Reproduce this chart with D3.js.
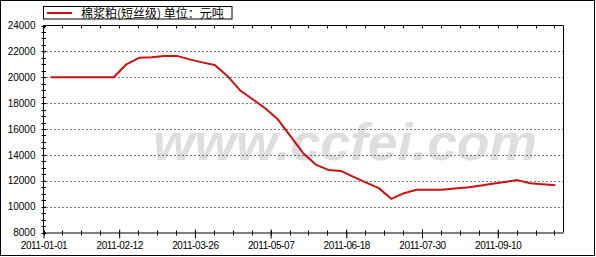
<!DOCTYPE html>
<html><head><meta charset="utf-8">
<script src="https://cdn.jsdelivr.net/npm/d3@7"></script>
<style>body{margin:0;background:#fff}svg{display:block}</style>
</head><body>
<svg id="c" width="596" height="257"></svg>
<script>
const seriesName = "棉浆粕(短丝级) 单位：元吨";
const startDate = "2011-01-05";
const values = [20000,20000,20000,20000,20000,20000,21000,21500,21550,21650,
  21650,21380,21150,20950,20100,19000,18300,17600,16750,15450,
  14150,13250,12840,12760,12300,11850,11430,10600,11040,11300,
  11300,11300,11400,11470,11620,11760,11900,12050,11800,11730,11650];
const xTickLabels = ["2011-01-01","2011-02-12","2011-03-26","2011-05-07","2011-06-18","2011-07-30","2011-09-10"];
const yTicks = [8000,10000,12000,14000,16000,18000,20000,22000,24000];
const watermark = "www.ccfei.com";

const svg = d3.select("#c");
const parse = d3.utcParse("%Y-%m-%d");
const DAY = 86400000;
const t0 = parse(startDate);
const data = values.map((v,i)=>({d:new Date(+t0 + i*7*DAY), v}));
const xStart = parse("2011-01-01");
const L=43.5, R=563.5, T=25.5, B=232.5;
const x = d3.scaleUtc().domain([xStart, new Date(+xStart + 288.5*DAY)]).range([L,R]);
const y = d3.scaleLinear().domain([8000,24000]).range([B,T]);
const py = v => Math.round(y(v)) + 0.5;

// outer border
svg.append("rect").attr("x",0.5).attr("y",0.5).attr("width",594).attr("height",255)
  .attr("fill","#fff").attr("stroke","#000");

// watermark
svg.append("text").attr("x",345).attr("y",160).attr("text-anchor","middle")
  .attr("font-family","Liberation Sans, Arial, sans-serif").attr("font-weight","bold")
  .attr("font-style","italic").attr("font-size",52).attr("fill","#dedede")
  .attr("textLength",384).attr("lengthAdjust","spacingAndGlyphs").text(watermark);

// grid
svg.append("g").selectAll("line").data(yTicks.filter(t=>t>8000&&t<24000)).join("line")
  .attr("x1",L+3).attr("x2",R).attr("y1",py).attr("y2",py)
  .attr("stroke","#000").attr("stroke-dasharray","1,3");

// frame top/right
svg.append("line").attr("x1",L).attr("x2",R).attr("y1",T).attr("y2",T).attr("stroke","#000");
svg.append("line").attr("x1",R).attr("x2",R).attr("y1",T).attr("y2",B).attr("stroke","#000");

// minor ticks x
const majors = xTickLabels.map(parse);
const minors = d3.range(0,28).map(k=>new Date(+xStart + k*10.5*DAY));
const gMin = svg.append("g");
gMin.selectAll("line.b").data(minors).join("line").attr("class","b")
  .attr("x1",d=>Math.round(x(d))+0.5).attr("x2",d=>Math.round(x(d))+0.5).attr("y1",B-2).attr("y2",B+3).attr("stroke","#000");
gMin.selectAll("line.t").data(minors).join("line").attr("class","t")
  .attr("x1",d=>Math.round(x(d))+0.5).attr("x2",d=>Math.round(x(d))+0.5).attr("y1",T).attr("y2",T+3).attr("stroke","#000");

// x axis
const xAxis = d3.axisBottom(x).tickValues(majors).tickSize(6).tickPadding(3)
  .tickFormat(d3.utcFormat("%Y-%m-%d"));
const gx = svg.append("g").attr("transform",`translate(0,${B})`).call(xAxis);
gx.select(".domain").attr("stroke","#000").attr("d",`M${L},0.5H${R}`);
gx.selectAll(".tick line").attr("y1",-3).attr("y2",6);
gx.selectAll("text").attr("font-family","Liberation Sans, Arial, sans-serif").attr("font-size",10)
  .attr("letter-spacing","-0.4").attr("fill","#000");

// y axis minor ticks
const yMinor = d3.range(8000,24001,500);
svg.append("g").selectAll("line").data(yMinor).join("line")
  .attr("x1",L-2).attr("x2",L+2.5).attr("y1",py).attr("y2",py).attr("stroke","#000");
const yAxis = d3.axisLeft(y).tickValues(yTicks).tickSize(5).tickPadding(3).tickFormat(d3.format("d"));
const gy = svg.append("g").attr("transform",`translate(${L},0)`).call(yAxis);
gy.select(".domain").attr("d",`M0,${T}V${B}`).attr("stroke","#000");
gy.selectAll(".tick line").attr("x2",2.5);
gy.selectAll("text").attr("font-family","Liberation Sans, Arial, sans-serif").attr("font-size",10).attr("fill","#000");

// line
svg.append("path").datum(data).attr("fill","none").attr("stroke","#cc1111").attr("stroke-width",2)
  .attr("stroke-linejoin","round")
  .attr("d",d3.line().x(d=>x(d.d)).y(d=>y(d.v)));

// legend
svg.append("rect").attr("x",43.5).attr("y",6.5).attr("width",188.5).attr("height",12.5)
  .attr("fill","#fff").attr("stroke","#000");
svg.append("line").attr("x1",47).attr("x2",72).attr("y1",13).attr("y2",13).attr("stroke","#cc1111").attr("stroke-width",2);
svg.append("text").attr("x",81).attr("y",17.5).attr("font-family","Noto Sans CJK SC, sans-serif")
  .attr("font-size",12).attr("fill","#000").text(seriesName);
</script>
</body></html>
